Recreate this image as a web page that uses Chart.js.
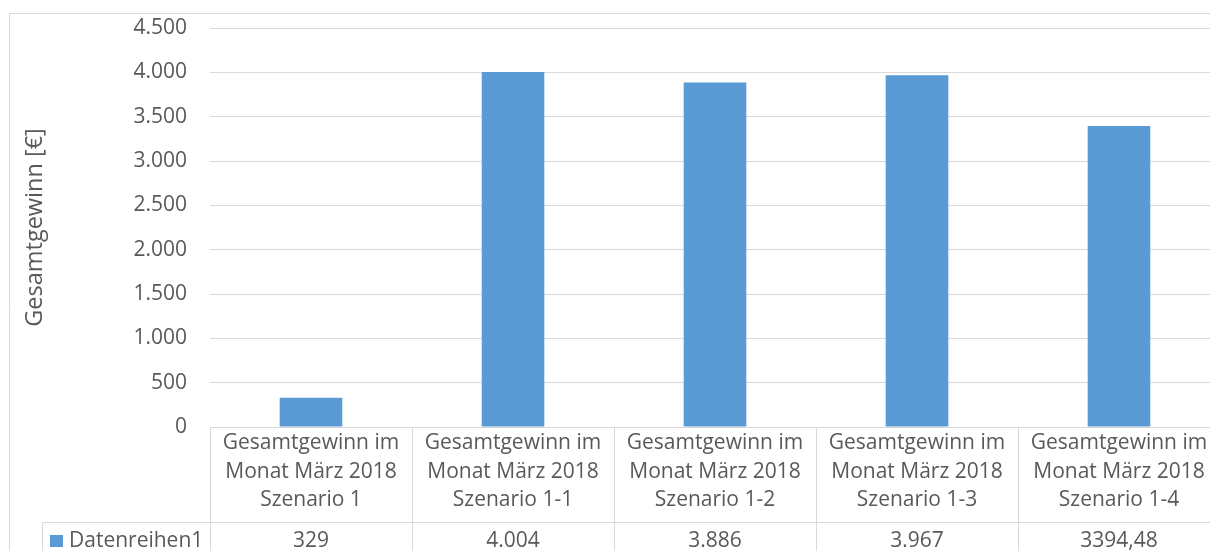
<!DOCTYPE html>
<html>
<head>
<meta charset="utf-8">
<script src="https://cdn.jsdelivr.net/npm/chart.js@4.4.1/dist/chart.umd.min.js"></script>
<style>
  html, body { margin: 0; padding: 0; background: #fff; overflow: hidden; }
  #wrap { position: relative; width: 1240px; height: 600px; }
</style>
</head>
<body>
<div id="wrap"><canvas id="gewinnChart" width="1240" height="600"></canvas></div>
<script>
// Kategorien (je Zeile ein Eintrag) und Werte der Datenreihe
const kategorien = [
  ['Gesamtgewinn im', 'Monat März 2018', 'Szenario 1'],
  ['Gesamtgewinn im', 'Monat März 2018', 'Szenario 1-1'],
  ['Gesamtgewinn im', 'Monat März 2018', 'Szenario 1-2'],
  ['Gesamtgewinn im', 'Monat März 2018', 'Szenario 1-3'],
  ['Gesamtgewinn im', 'Monat März 2018', 'Szenario 1-4']
];
const reihenName = 'Datenreihen1';
const gesamtgewinn = [329, 4004, 3886, 3967, 3394.48];
const yMax = 4500;
const yStep = 500;
const yTitel = 'Gesamtgewinn [€]';

const FONT = "'Open Sans', 'Noto Sans', sans-serif";
const TEXT_COLOR = '#595959';
const LINE_COLOR = '#D9D9D9';
const BAR_COLOR = '#5B9BD5';

// deutsche Tausenderpunkte, Dezimalkomma
function formatDe(v) {
  if (Number.isInteger(v)) {
    return String(v).replace(/\B(?=(\d{3})+(?!\d))/g, '.');
  }
  return String(v).replace('.', ',');
}

// Datentabelle unter der Achse + Rahmen
const datenTabelle = {
  id: 'datenTabelle',
  afterDraw(chart) {
    const { ctx, chartArea, scales: { x } } = chart;
    const n = kategorien.length;
    const colW = (chartArea.right - chartArea.left) / n;
    const top = Math.round(chartArea.bottom) + 0.5;
    const rowSplit = top + 95;
    const bottom = chart.height;
    const legendLeft = 42.5;

    ctx.save();
    ctx.strokeStyle = LINE_COLOR;
    ctx.lineWidth = 1;

    // Diagrammrahmen
    ctx.beginPath();
    ctx.moveTo(9.5, bottom);
    ctx.lineTo(9.5, 13.5);
    ctx.lineTo(chart.width, 13.5);
    ctx.stroke();

    // horizontale Tabellenlinien
    ctx.beginPath();
    ctx.moveTo(chartArea.left, top);
    ctx.lineTo(chart.width, top);
    ctx.moveTo(legendLeft, rowSplit);
    ctx.lineTo(chart.width, rowSplit);
    // vertikale Linien
    ctx.moveTo(legendLeft, rowSplit);
    ctx.lineTo(legendLeft, bottom);
    for (let i = 0; i <= n; i++) {
      const xx = Math.round(chartArea.left + i * colW) + 0.5;
      ctx.moveTo(xx, top);
      ctx.lineTo(xx, bottom);
    }
    ctx.stroke();

    ctx.fillStyle = TEXT_COLOR;
    ctx.font = '21px ' + FONT;
    ctx.textAlign = 'center';
    ctx.textBaseline = 'middle';
    kategorien.forEach((zeilen, i) => {
      const cx = x.getPixelForValue(i);
      zeilen.forEach((z, j) => {
        ctx.fillText(z, cx, top + 16 + j * 28.5);
      });
      ctx.fillText(formatDe(gesamtgewinn[i]), cx, rowSplit + 19);
    });

    // Legendensymbol + Reihenname
    ctx.fillStyle = BAR_COLOR;
    ctx.fillRect(50, rowSplit + 12.5, 13, 12);
    ctx.fillStyle = TEXT_COLOR;
    ctx.textAlign = 'left';
    ctx.fillText(reihenName, 69, rowSplit + 19);
    ctx.restore();
  }
};

new Chart(document.getElementById('gewinnChart').getContext('2d'), {
  type: 'bar',
  data: {
    labels: kategorien,
    datasets: [{
      label: reihenName,
      data: gesamtgewinn,
      backgroundColor: BAR_COLOR,
      borderWidth: 0,
      categoryPercentage: 1,
      barPercentage: 0.31
    }]
  },
  options: {
    responsive: false,
    animation: false,
    devicePixelRatio: 1,
    layout: { padding: { left: 0, right: 20, top: 28, bottom: 173 } },
    plugins: {
      legend: { display: false },
      tooltip: { enabled: false }
    },
    scales: {
      x: { display: false },
      y: {
        min: 0,
        max: yMax,
        afterFit(scale) {
          scale.width = 210;
          scale.paddingTop = 0;
          scale.paddingBottom = 0;
        },
        ticks: {
          stepSize: yStep,
          padding: 23,
          color: TEXT_COLOR,
          font: { family: FONT, size: 21 },
          callback: v => formatDe(v)
        },
        grid: { color: LINE_COLOR, lineWidth: 1, drawTicks: false },
        border: { display: false },
        title: {
          display: true,
          text: yTitel,
          color: TEXT_COLOR,
          font: { family: FONT, size: 23.5 },
          padding: { top: 21, bottom: 0 }
        }
      }
    }
  },
  plugins: [datenTabelle]
});
</script>
</body>
</html>
